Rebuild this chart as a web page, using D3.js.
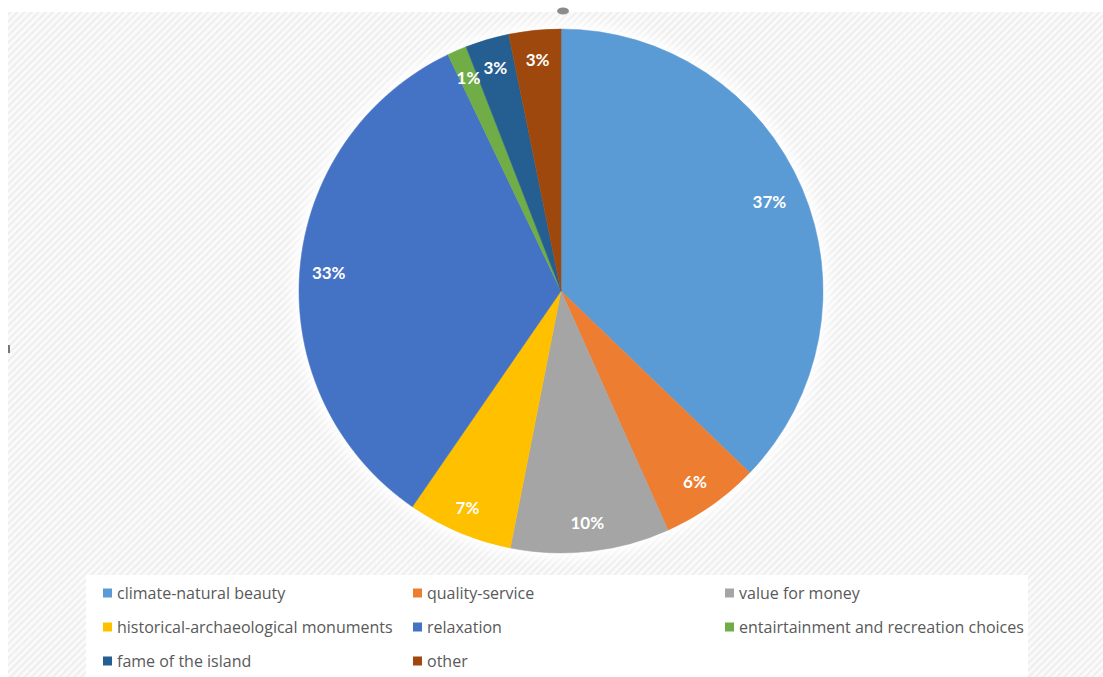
<!DOCTYPE html>
<html>
<head>
<meta charset="utf-8">
<script src="https://cdn.jsdelivr.net/npm/d3@7/dist/d3.min.js"></script>
<style>
  html, body { margin: 0; padding: 0; background: #ffffff; }
  svg { display: block; }
</style>
</head>
<body>
<svg id="chart" width="1103" height="677"></svg>
<script>
// Reasons for choosing the island (share of respondents)
const categories = [
  "climate-natural beauty",
  "quality-service",
  "value for money",
  "historical-archaeological monuments",
  "relaxation",
  "entairtainment and recreation choices",
  "fame of the island",
  "other"
];
const shares = [37.2, 6.1, 9.8, 6.5, 33.3, 1.2, 2.7, 3.2];
const sliceColors = ["#5B9BD5", "#ED7D31", "#A5A5A5", "#FFC000", "#4472C4", "#70AD47", "#255E91", "#9E480E"];

// Layout
const W = 1103, H = 677;
const cx = 561, cy = 291, R = 262;
const labelR = 233;
const labelNudge = { "climate-natural beauty": [-6, 2], "historical-archaeological monuments": [-3, 2] };

const svg = d3.select("#chart");
const defs = svg.append("defs");

// Diagonal hatch used for the chart area
const pat = defs.append("pattern")
  .attr("id", "hatch")
  .attr("patternUnits", "userSpaceOnUse")
  .attr("width", 5).attr("height", 5)
  .attr("patternTransform", "rotate(45)");
pat.append("rect").attr("width", 5).attr("height", 5).attr("fill", "#fafafa");
pat.append("rect").attr("width", 2).attr("height", 5).attr("fill", "#eeeeee");

const glow = defs.append("filter").attr("id", "glow")
  .attr("x", "-20%").attr("y", "-20%").attr("width", "140%").attr("height", "140%");
glow.append("feGaussianBlur").attr("stdDeviation", 6);

svg.append("rect")
  .attr("x", 8).attr("y", 12)
  .attr("width", W - 8).attr("height", H - 12)
  .attr("fill", "url(#hatch)");

// Small stray marks along the edges
svg.append("ellipse").attr("cx", 563).attr("cy", 11).attr("rx", 6).attr("ry", 3.5).attr("fill", "#8a8a8a");
svg.append("rect").attr("x", 8).attr("y", 345).attr("width", 2).attr("height", 8).attr("fill", "#777");

// Soft halo behind the pie
svg.append("circle")
  .attr("cx", cx).attr("cy", cy).attr("r", R + 6)
  .attr("fill", "#ffffff").attr("filter", "url(#glow)");

const data = categories.map((c, i) => ({ name: c, value: shares[i], color: sliceColors[i] }));

const pie = d3.pie().value(d => d.value).sort(null);
const arcs = pie(data);
const arc = d3.arc().innerRadius(0).outerRadius(R);
const labelArc = d3.arc().innerRadius(labelR).outerRadius(labelR);

const g = svg.append("g").attr("transform", `translate(${cx},${cy})`);

g.selectAll("path.slice")
  .data(arcs)
  .join("path")
  .attr("class", "slice")
  .attr("d", arc)
  .attr("fill", d => d.data.color)
  .attr("stroke", d => d.data.color)
  .attr("stroke-width", 0.5);

g.selectAll("text.pct")
  .data(arcs)
  .join("text")
  .attr("class", "pct")
  .attr("transform", d => {
    const [x, y] = labelArc.centroid(d);
    const n = labelNudge[d.data.name] || [0, 0];
    return `translate(${x + n[0]},${y + n[1]})`;
  })
  .attr("text-anchor", "middle")
  .attr("dominant-baseline", "central")
  .attr("font-family", "Lato, 'Open Sans', sans-serif")
  .attr("font-weight", "bold")
  .attr("font-size", 17)
  .attr("fill", "#ffffff")
  .text(d => Math.round(d.data.value) + "%");

// Legend
const legendBox = { x: 86, y: 575, w: 942, h: H - 575 };
svg.append("rect")
  .attr("x", legendBox.x).attr("y", legendBox.y)
  .attr("width", legendBox.w).attr("height", legendBox.h)
  .attr("fill", "#ffffff");

const colX = [103, 413, 725];
const rowY = [593, 627, 661];

const leg = svg.append("g").selectAll("g.item")
  .data(data)
  .join("g")
  .attr("class", "item")
  .attr("transform", (d, i) => `translate(${colX[i % 3]},${rowY[Math.floor(i / 3)]})`);

leg.append("rect")
  .attr("x", 0).attr("y", -4.5)
  .attr("width", 9).attr("height", 9)
  .attr("fill", d => d.color);

leg.append("text")
  .attr("x", 14).attr("y", 0)
  .attr("dominant-baseline", "central")
  .attr("font-family", "'Open Sans', sans-serif")
  .attr("font-size", 16)
  .attr("fill", "#595959")
  .text(d => d.name);
</script>
</body>
</html>
